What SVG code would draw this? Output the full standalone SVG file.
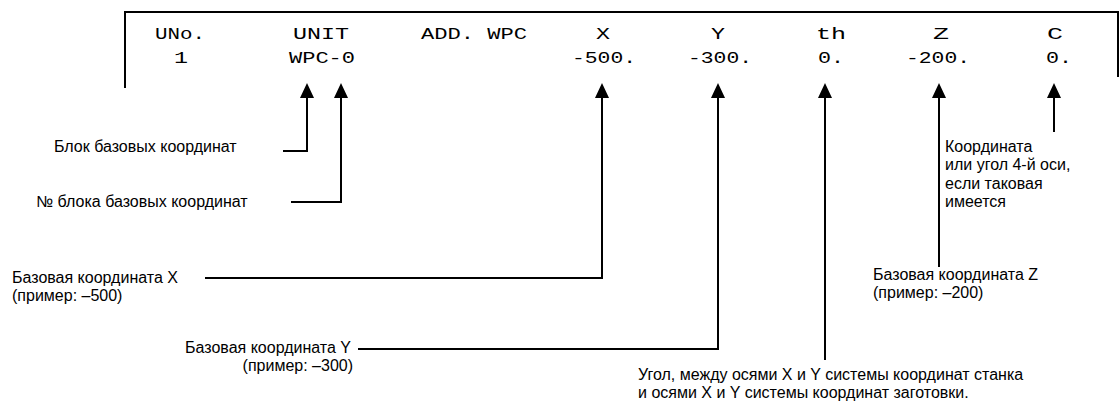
<svg xmlns="http://www.w3.org/2000/svg" width="1120" height="409" viewBox="0 0 1120 409">
<style>
.mono{font-family:"Liberation Mono","Courier New",monospace;font-size:16px;fill:#000}
.lbl{font-family:"Liberation Sans",Arial,sans-serif;font-size:16px;fill:#000}
.ln{fill:none;stroke:#000;stroke-width:2}
.cn{fill:none;stroke:#000;stroke-width:2;marker-end:url(#ah)}
</style>
<defs>
<marker id="ah" markerUnits="userSpaceOnUse" markerWidth="15" markerHeight="14" viewBox="0 0 15 14" refX="8" refY="7" orient="auto">
<path d="M0,0 L15,7 L0,14 z" fill="#000"/>
</marker>
</defs>
<rect width="1120" height="409" fill="#fff"/>
<g id="table">
<path class="ln" d="M125,88 V12 H1118 V77"/>
<text class="mono" x="155" y="39" textLength="50" lengthAdjust="spacingAndGlyphs">UNo.</text>
<text class="mono" x="293" y="39" textLength="56" lengthAdjust="spacingAndGlyphs">UNIT</text>
<text class="mono" x="421" y="39" textLength="106" lengthAdjust="spacingAndGlyphs">ADD. WPC</text>
<text class="mono" x="596" y="39" textLength="14" lengthAdjust="spacingAndGlyphs">X</text>
<text class="mono" x="711" y="39" textLength="14" lengthAdjust="spacingAndGlyphs">Y</text>
<text class="mono" x="816" y="39" textLength="30" lengthAdjust="spacingAndGlyphs">th</text>
<text class="mono" x="933" y="39" textLength="16" lengthAdjust="spacingAndGlyphs">Z</text>
<text class="mono" x="1047" y="39" textLength="16" lengthAdjust="spacingAndGlyphs">C</text>
<text class="mono" x="174" y="63" textLength="14" lengthAdjust="spacingAndGlyphs">1</text>
<text class="mono" x="289" y="63" textLength="66" lengthAdjust="spacingAndGlyphs">WPC-0</text>
<text class="mono" x="572" y="63" textLength="64" lengthAdjust="spacingAndGlyphs">-500.</text>
<text class="mono" x="688" y="63" textLength="64" lengthAdjust="spacingAndGlyphs">-300.</text>
<text class="mono" x="818" y="63" textLength="26" lengthAdjust="spacingAndGlyphs">0.</text>
<text class="mono" x="906" y="63" textLength="64" lengthAdjust="spacingAndGlyphs">-200.</text>
<text class="mono" x="1046" y="63" textLength="26" lengthAdjust="spacingAndGlyphs">0.</text>
</g>
<g id="connectors">
<path class="cn" d="M283,151 H307 V90"/>
<path class="cn" d="M291,202 H341 V90"/>
<path class="cn" d="M205,278 H602 V90"/>
<path class="cn" d="M358,349 H718 V90"/>
<path class="cn" d="M825,360 V90"/>
<path class="cn" d="M939,267 V90"/>
<path class="cn" d="M1054,132 V90"/>
</g>
<g id="label-block">
<text class="lbl" x="54" y="152">Блок базовых координат</text>
</g>
<g id="label-blocknum">
<text class="lbl" x="36" y="207">№ блока базовых координат</text>
</g>
<g id="label-x">
<text class="lbl" x="12" y="283">Базовая координата X</text>
<text class="lbl" x="12" y="301">(пример: –500)</text>
</g>
<g id="label-y">
<text class="lbl" x="351" y="353" text-anchor="end">Базовая координата Y</text>
<text class="lbl" x="353" y="371" text-anchor="end">(пример: –300)</text>
</g>
<g id="label-th">
<text class="lbl" x="638" y="380">Угол, между осями X и Y системы координат станка</text>
<text class="lbl" x="638" y="398">и осями X и Y системы координат заготовки.</text>
</g>
<g id="label-z">
<text class="lbl" x="873" y="280">Базовая координата Z</text>
<text class="lbl" x="873" y="298">(пример: –200)</text>
</g>
<g id="label-c">
<text class="lbl" x="945" y="152">Координата</text>
<text class="lbl" x="945" y="170">или угол 4-й оси,</text>
<text class="lbl" x="945" y="189">если таковая</text>
<text class="lbl" x="945" y="207">имеется</text>
</g>
</svg>
